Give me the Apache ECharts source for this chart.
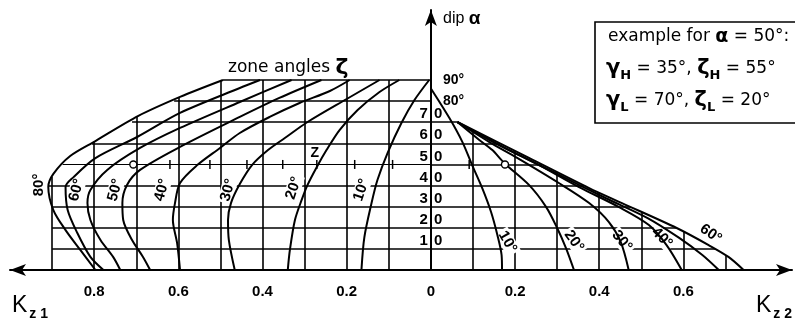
<!DOCTYPE html>
<html>
<head>
<meta charset="utf-8">
<script src="https://cdn.jsdelivr.net/npm/echarts@6/dist/echarts.min.js"></script>
<style>
  html, body { margin: 0; padding: 0; background: #fff; }
  #chart { width: 795px; height: 328px; }
</style>
</head>
<body>
<div id="chart"></div>
<script>
// every point is [K, dip α]; K_z1 side is drawn to the left (negative K)
const kz1_10 = [[-0.165,0],[-0.158,15.6],[-0.141,31.7],[-0.127,42.6],[-0.103,55.4],[-0.07,69.6],[-0.039,80.5],[-0.004,90]];
const kz1_20 = [[-0.34,0],[-0.335,9.5],[-0.323,23.7],[-0.307,33.2],[-0.293,40.3],[-0.271,48.8],[-0.248,56.8],[-0.217,66.3],[-0.174,75.8],[-0.122,84.3],[-0.075,90]];
const kz1_30 = [[-0.466,0],[-0.48,14.2],[-0.482,23.7],[-0.475,31.7],[-0.454,40.7],[-0.425,49.7],[-0.387,56.8],[-0.347,62.5],[-0.293,70.1],[-0.2,81],[-0.122,90]];
const kz1_40 = [[-0.596,0],[-0.603,12.8],[-0.613,23.7],[-0.608,31.7],[-0.596,41.2],[-0.555,49.7],[-0.501,57.8],[-0.454,64.9],[-0.383,72.5],[-0.312,79.1],[-0.24,84.8],[-0.193,90]];
const kz1_50 = [[-0.667,0],[-0.684,6.2],[-0.71,14.2],[-0.731,23.7],[-0.733,31.7],[-0.722,40.3],[-0.691,47.4],[-0.596,58.3],[-0.454,72.5],[-0.36,81.5],[-0.26,90]];
const kz1_60 = [[-0.738,0],[-0.755,6.2],[-0.785,14.2],[-0.809,23.7],[-0.816,31.7],[-0.809,37.9],[-0.769,47.4],[-0.691,57.8],[-0.596,67.3],[-0.454,79.6],[-0.331,90]];
const kz1_70 = [[-0.778,0],[-0.809,6.2],[-0.84,17.5],[-0.863,28.4],[-0.868,39.3],[-0.849,44],[-0.797,53],[-0.698,63],[-0.596,74.4],[-0.454,86.2],[-0.406,90]];
const kz1_80 = [[-0.797,0],[-0.833,9.5],[-0.868,18.9],[-0.897,28.4],[-0.909,39.3],[-0.897,45.5],[-0.857,54],[-0.797,61.1],[-0.695,73],[-0.596,82],[-0.494,90]];

const kz2_10 = [[0,86],[0.044,72],[0.075,60.6],[0.098,49.7],[0.122,38.8],[0.143,27.5],[0.158,16.6],[0.168,7.1],[0.169,0]];
const kz2_20 = [[0.063,70.1],[0.115,61.6],[0.146,56.8],[0.174,50.7],[0.233,40.3],[0.274,29.8],[0.3,19.9],[0.321,10.4],[0.34,0]];
const kz2_30 = [[0.063,70.1],[0.139,60.6],[0.205,53.1],[0.304,41.2],[0.376,31.7],[0.423,22.7],[0.451,13.3],[0.47,0]];
const kz2_40 = [[0.063,70.1],[0.162,59.2],[0.257,49.7],[0.352,39.3],[0.447,29.8],[0.518,21.3],[0.56,11.8],[0.596,0]];
const kz2_50 = [[0.063,70.1],[0.186,56.8],[0.3,45.5],[0.415,34.1],[0.515,24.6],[0.59,15.2],[0.645,7.1],[0.684,0]];
const kz2_60 = [[0.063,70.1],[0.233,53.1],[0.376,38.8],[0.454,31.7],[0.584,19.9],[0.66,11.8],[0.707,6.2],[0.743,0]];

// grid rows (dip levels) and where they stop at the outer curves
const rowDips = [10, 20, 30, 40, 50, 60, 70, 80, 90];
const rowLeftEnd = [-0.9, -0.9, -0.9, -0.908, -0.875, -0.805, -0.71, -0.61, -0.494];
const rowRightDips = [10, 20, 30, 40, 50, 60, 70];
const rowRightEnd = [0.675, 0.583, 0.473, 0.364, 0.264, 0.164, 0.063];
// grid columns and how high they reach
const colLeftK = [-0.1, -0.2, -0.3, -0.4, -0.5, -0.6, -0.7, -0.8, -0.9];
const colLeftTop = [90, 90, 90, 90, 90, 81.5, 72.5, 60.8, 44];
const colRightK = [0.1, 0.2, 0.3, 0.4, 0.5, 0.6, 0.7];
const colRightTop = [66.4, 56.4, 46.4, 36.6, 27.5, 18.2, 7];

// dip tick labels written across the α axis ("1|0" ... "7|0"), plus 80° / 90°
const dipTicks = [10, 20, 30, 40, 50, 60, 70];
const dipNotes = [80, 90];

// small scale ticks on the 50° row, and the two example points (α = 50°)
const zTicks = [-0.62, -0.525, -0.437, -0.352, -0.271, -0.181, -0.091, 0.091];
const examplePts = [[-0.707, 50], [0.176, 50]];

// curve labels: [K, α, text, rotation]
const leftLabels = [[-0.932,40.3,'80°',90],[-0.842,37.9,'60°',75],[-0.75,37.9,'50°',75],[-0.639,37.9,'40°',75],[-0.482,37.9,'30°',75],[-0.326,38.8,'20°',72],[-0.165,37.9,'10°',72]];
const rightLabels = [[0.182,13.3,'10°',-60],[0.34,13.7,'20°',-55],[0.454,13.7,'30°',-50],[0.549,15.2,'40°',-45],[0.665,17.1,'60°',-35]];

const chart = echarts.init(document.getElementById('chart'));
const ink = '#000';
const numFont = "'Liberation Sans', Arial, sans-serif";
const textFont = "'DejaVu Sans', sans-serif";

function curve(name, data) {
  return {
    name, type: 'line', data, smooth: 0.3, symbol: 'none', z: 5,
    lineStyle: { color: ink, width: 2 }, silent: true
  };
}

// text-only scatter (no visible symbol, full opacity)
function textLayer(data, label, z) {
  return { type: 'scatter', silent: true, z: z || 4, symbolSize: 0, itemStyle: { opacity: 1 }, data, label };
}

const gridSegs = [];
rowDips.forEach((d, i) => {
  gridSegs.push({ coords: [[rowLeftEnd[i], d], [0, d]], lineStyle: { width: d === 50 ? 1 : 1.6 } });
});
rowRightDips.forEach((d, i) => {
  gridSegs.push({ coords: [[0, d], [rowRightEnd[i], d]] });
});
colLeftK.forEach((k, i) => gridSegs.push({ coords: [[k, 0], [k, colLeftTop[i]]] }));
colRightK.forEach((k, i) => gridSegs.push({ coords: [[k, 0], [k, colRightTop[i]]] }));

const curveLabelStyle = {
  show: true, position: 'inside', color: ink, fontFamily: numFont,
  fontWeight: 'bold', fontSize: 15, backgroundColor: '#fff', padding: [0, 2]
};
const digit = { color: ink, fontFamily: numFont, fontWeight: 'bold', fontSize: 15 };

// K label with lowered subscript
function kLabel(x, sub) {
  return {
    type: 'text', x, y: 306,
    style: {
      text: '{k|K}{s|' + sub + '}', verticalAlign: 'middle',
      rich: {
        k: { fontSize: 23, fontFamily: numFont, fill: ink, lineHeight: 30, verticalAlign: 'middle' },
        s: { fontSize: 14, fontWeight: 'bold', fontFamily: numFont, fill: ink, lineHeight: 12, verticalAlign: 'bottom', padding: [0, 0, 0, 2] }
      }
    }
  };
}

const option = {
  animation: false,
  backgroundColor: '#fff',
  grid: { left: 10, right: 2, top: 10, bottom: 58 },
  xAxis: {
    type: 'value', min: -1.0, max: 0.858, interval: 0.2,
    splitLine: { show: false }, axisTick: { show: false },
    axisLine: { lineStyle: { color: ink, width: 2 }, symbol: ['arrow', 'arrow'], symbolSize: [9, 16] },
    axisLabel: {
      color: ink, fontFamily: numFont, fontWeight: 'bold', fontSize: 15, margin: 14,
      formatter: v => {
        const r = Math.round(v * 10) / 10;
        if (r < -0.85 || r > 0.65) return '';
        return r === 0 ? '0' : Math.abs(r).toFixed(1);
      }
    }
  },
  yAxis: {
    type: 'value', min: 0, max: 123.16, interval: 10,
    splitLine: { show: false }, axisTick: { show: false }, axisLabel: { show: false },
    axisLine: { onZero: true, lineStyle: { color: ink, width: 2 }, symbol: ['none', 'arrow'], symbolSize: [9, 16] }
  },
  series: [
    {
      type: 'lines', coordinateSystem: 'cartesian2d', polyline: false, silent: true, z: 2,
      lineStyle: { color: ink, width: 1.6, opacity: 1 }, data: gridSegs
    },
    curve('ζ 10° left', kz1_10), curve('ζ 20° left', kz1_20), curve('ζ 30° left', kz1_30),
    curve('ζ 40° left', kz1_40), curve('ζ 50° left', kz1_50), curve('ζ 60° left', kz1_60),
    curve('ζ 70° left', kz1_70), curve('ζ 80° left', kz1_80),
    curve('ζ 10° right', kz2_10), curve('ζ 20° right', kz2_20), curve('ζ 30° right', kz2_30),
    curve('ζ 40° right', kz2_40), curve('ζ 50° right', kz2_50), curve('ζ 60° right', kz2_60),
    {
      type: 'scatter', silent: true, z: 6, symbol: 'rect', symbolSize: [1.5, 9],
      itemStyle: { color: ink, opacity: 1 }, data: zTicks.map(k => [k, 50])
    },
    {
      type: 'scatter', silent: true, z: 7, symbol: 'circle', symbolSize: 7,
      itemStyle: { color: '#fff', borderColor: ink, borderWidth: 1.4, opacity: 1 }, data: examplePts
    },
    textLayer(leftLabels.concat(rightLabels).map(l => ({
      value: [l[0], l[1]], label: Object.assign({}, curveLabelStyle, { formatter: l[2], rotate: l[3] })
    })), { show: true }),
    textLayer(dipTicks.map(d => [0, d]), {
      show: true, position: 'inside', offset: [0, -8],
      formatter: p => '{a|' + (p.value[1] / 10) + '}{b|0}',
      rich: {
        a: Object.assign({ padding: [0, 3, 0, 0] }, digit),
        b: Object.assign({ padding: [0, 0, 0, 3] }, digit)
      }
    }, 6),
    textLayer(dipNotes.map(d => [0, d]), {
      show: true, position: 'right', distance: 12, color: ink, fontFamily: numFont,
      fontWeight: 'bold', fontSize: 14, formatter: p => p.value[1] + '°'
    }),
    textLayer([[-0.276, 55.4]], {
      show: true, position: 'inside', formatter: 'Z', color: ink, fontFamily: numFont, fontWeight: 'bold', fontSize: 14
    })
  ],
  graphic: [
    {
      type: 'text', x: 228, y: 68,
      style: {
        text: 'zone angles {z|ζ}', fill: ink, font: "17px 'DejaVu Sans', sans-serif", verticalAlign: 'middle',
        rich: { z: { fontSize: 22, fontWeight: 'bold', fontFamily: textFont, fill: ink } }
      }
    },
    {
      type: 'text', x: 443, y: 19,
      style: {
        text: 'dip {a|α}', fill: ink, font: "16px 'Liberation Sans', Arial, sans-serif", verticalAlign: 'middle',
        rich: { a: { fontSize: 19, fontWeight: 'bold', fontFamily: numFont, fill: ink } }
      }
    },
    {
      type: 'rect', shape: { x: 595, y: 22, width: 240, height: 101 },
      style: { fill: '#fff', stroke: ink, lineWidth: 1.6 }, z: 10
    },
    {
      type: 'text', x: 608, y: 37, z: 11,
      style: {
        text: 'example for {a|α} = 50°:', fill: ink, font: "17px 'DejaVu Sans', sans-serif", verticalAlign: 'middle',
        rich: { a: { fontSize: 19, fontWeight: 'bold', fontFamily: textFont, fill: ink } }
      }
    },
    {
      type: 'text', x: 606, y: 69, z: 11,
      style: {
        text: '{g|γ}{s|H}{t| = 35°, }{g|ζ}{s|H}{t| = 55°}', verticalAlign: 'middle',
        rich: {
          g: { fontSize: 21, fontWeight: 'bold', fontFamily: textFont, fill: ink, lineHeight: 26, verticalAlign: 'middle' },
          s: { fontSize: 13, fontWeight: 'bold', fontFamily: textFont, fill: ink, lineHeight: 12, verticalAlign: 'bottom' },
          t: { fontSize: 17, fontFamily: textFont, fill: ink, lineHeight: 26, verticalAlign: 'middle' }
        }
      }
    },
    {
      type: 'text', x: 606, y: 101, z: 11,
      style: {
        text: '{g|γ}{s|L}{t| = 70°, }{g|ζ}{s|L}{t| = 20°}', verticalAlign: 'middle',
        rich: {
          g: { fontSize: 21, fontWeight: 'bold', fontFamily: textFont, fill: ink, lineHeight: 26, verticalAlign: 'middle' },
          s: { fontSize: 13, fontWeight: 'bold', fontFamily: textFont, fill: ink, lineHeight: 12, verticalAlign: 'bottom' },
          t: { fontSize: 17, fontFamily: textFont, fill: ink, lineHeight: 26, verticalAlign: 'middle' }
        }
      }
    },
    kLabel(12, 'z 1'),
    kLabel(756, 'z 2')
  ]
};

chart.setOption(option);
</script>
</body>
</html>
